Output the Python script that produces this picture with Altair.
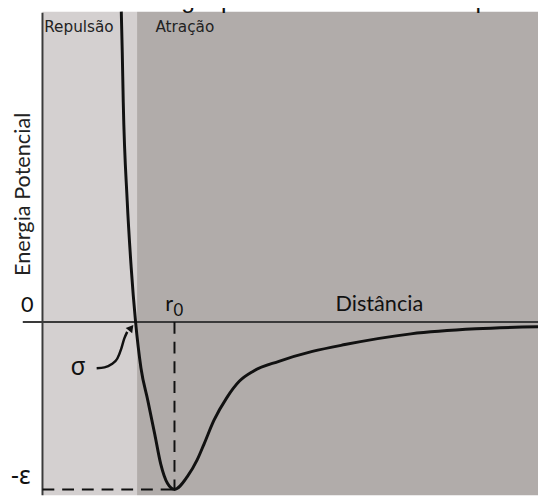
import altair as alt
import pandas as pd

# ---- data (distance in arbitrary units, energy in units of epsilon) ----
curve_x = [0.80, 0.81, 0.82, 0.86, 0.90, 0.945, 1.00, 1.07, 1.14, 1.20, 1.27, 1.34,
           1.47, 1.57, 1.64, 1.74, 1.87, 2.00, 2.14, 2.40, 2.74, 3.07, 3.74, 4.40, 5.03]
curve_y = [1.853, 1.606, 1.312, 0.724, 0.329, 0.0, -0.276, -0.471, -0.671, -0.847, -0.965, -1.0,
           -0.924, -0.824, -0.729, -0.588, -0.453, -0.353, -0.294, -0.235, -0.176, -0.135, -0.071, -0.041, -0.029]

sigma = 0.945
r0 = 1.34
eps = -1.0

region_names = ["Repulsão", "Atração"]
region_x0 = [0.0, 0.96]
region_x1 = [0.96, 5.03]
region_colors = ["#d4d0d0", "#b1acaa"]
region_label_x = [0.37, 1.445]
region_label_y = [1.729, 1.729]

arrow_x = [0.55, 0.63, 0.70, 0.76, 0.80, 0.83, 0.86]
arrow_y = [-0.276, -0.271, -0.253, -0.218, -0.159, -0.100, -0.059]
arrow_head = (0.90, -0.035)

x_domain = [-0.35, 5.03]
y_domain = [-1.0353, 1.8529]

title_text = "Comportamento da energia potencial entre duas espécies"

W, H = 538, 491

xs = alt.Scale(domain=x_domain, nice=False, zero=False)
ys = alt.Scale(domain=y_domain, nice=False, zero=False)
X = lambda f: alt.X(f, type="quantitative", scale=xs, axis=None)
Y = lambda f: alt.Y(f, type="quantitative", scale=ys, axis=None)

regions = pd.DataFrame({"name": region_names, "x0": region_x0, "x1": region_x1,
                        "y0": [y_domain[0]] * 2, "y1": [y_domain[1]] * 2,
                        "c": region_colors, "lx": region_label_x, "ly": region_label_y})

rect = alt.Chart(regions).mark_rect().encode(
    x=X("x0"), x2="x1", y=Y("y0"), y2="y1",
    color=alt.Color("c:N", scale=None))

region_text = alt.Chart(regions).mark_text(
    font="DejaVu Sans", fontSize=15.5, color="#222", align="center", baseline="alphabetic"
).encode(x=X("lx"), y=Y("ly"), text="name:N")

axes_df = pd.DataFrame({"x": [0.0, -0.2], "x2": [0.0, x_domain[1]],
                        "y": [y_domain[0], 0.0], "y2": [1.847, 0.0]})
axes = alt.Chart(axes_df).mark_rule(color="#3a3a3a", strokeWidth=2).encode(
    x=X("x"), x2="x2", y=Y("y"), y2="y2")

dash_df = pd.DataFrame({"x": [0.0, r0], "x2": [r0, r0], "y": [eps, 0.0], "y2": [eps, eps]})
dashes = alt.Chart(dash_df).mark_rule(color="#111", strokeWidth=2, strokeDash=[12, 8]).encode(
    x=X("x"), x2="x2", y=Y("y"), y2="y2")

curve = alt.Chart(pd.DataFrame({"x": curve_x, "y": curve_y})).mark_line(
    color="#111", strokeWidth=3, interpolate="monotone").encode(x=X("x"), y=Y("y"))

arrow = alt.Chart(pd.DataFrame({"x": arrow_x, "y": arrow_y})).mark_line(
    color="#111", strokeWidth=2.5, interpolate="monotone").encode(x=X("x"), y=Y("y"))

head = alt.Chart(pd.DataFrame({"x": [arrow_head[0]], "y": [arrow_head[1]]})).mark_point(
    shape="triangle-up", filled=True, color="#111", size=70, angle=38, opacity=1).encode(
    x=X("x"), y=Y("y"))

labels = pd.DataFrame({
    "t": ["0", "r", "Distância"],
    "x": [-0.155, 1.285, 3.42],
    "y": [0.059, 0.065, 0.065],
})
lab = alt.Chart(labels).mark_text(font="Lato", fontSize=22, color="#111", align="center",
                                  baseline="alphabetic").encode(x=X("x"), y=Y("y"), text="t:N")

sub = alt.Chart(pd.DataFrame({"t": ["0"], "x": [1.38], "y": [0.035]})).mark_text(
    font="Lato", fontSize=17, color="#111", align="center", baseline="alphabetic"
).encode(x=X("x"), y=Y("y"), text="t:N")

greek = alt.Chart(pd.DataFrame({"t": ["σ", "-ε"], "x": [0.36, -0.22], "y": [-0.318, -0.965]})).mark_text(
    font="Noto Sans", fontSize=25, color="#111", align="center", baseline="alphabetic"
).encode(x=X("x"), y=Y("y"), text="t:N")

ylab = alt.Chart(pd.DataFrame({"t": ["Energia Potencial"], "x": [-0.13], "y": [0.762]})).mark_text(
    font="Lato", fontSize=22, color="#222", align="center", baseline="alphabetic", angle=270
).encode(x=X("x"), y=Y("y"), text="t:N")

title = alt.Chart(pd.DataFrame({"t": [title_text]})).mark_text(
    font="Liberation Sans", fontSize=25, color="#111", align="center", baseline="alphabetic"
).encode(x=alt.value(226), y=alt.value(-4), text="t:N")

chart = alt.layer(rect, region_text, axes, dashes, curve, arrow, head, lab, sub, greek, ylab, title).properties(
    width=W, height=H, padding=0, autosize=alt.AutoSizeParams(type="none"), background="white"
).configure_view(strokeWidth=0)

chart.save("out.html", embed_options={"renderer": "svg", "actions": False})
